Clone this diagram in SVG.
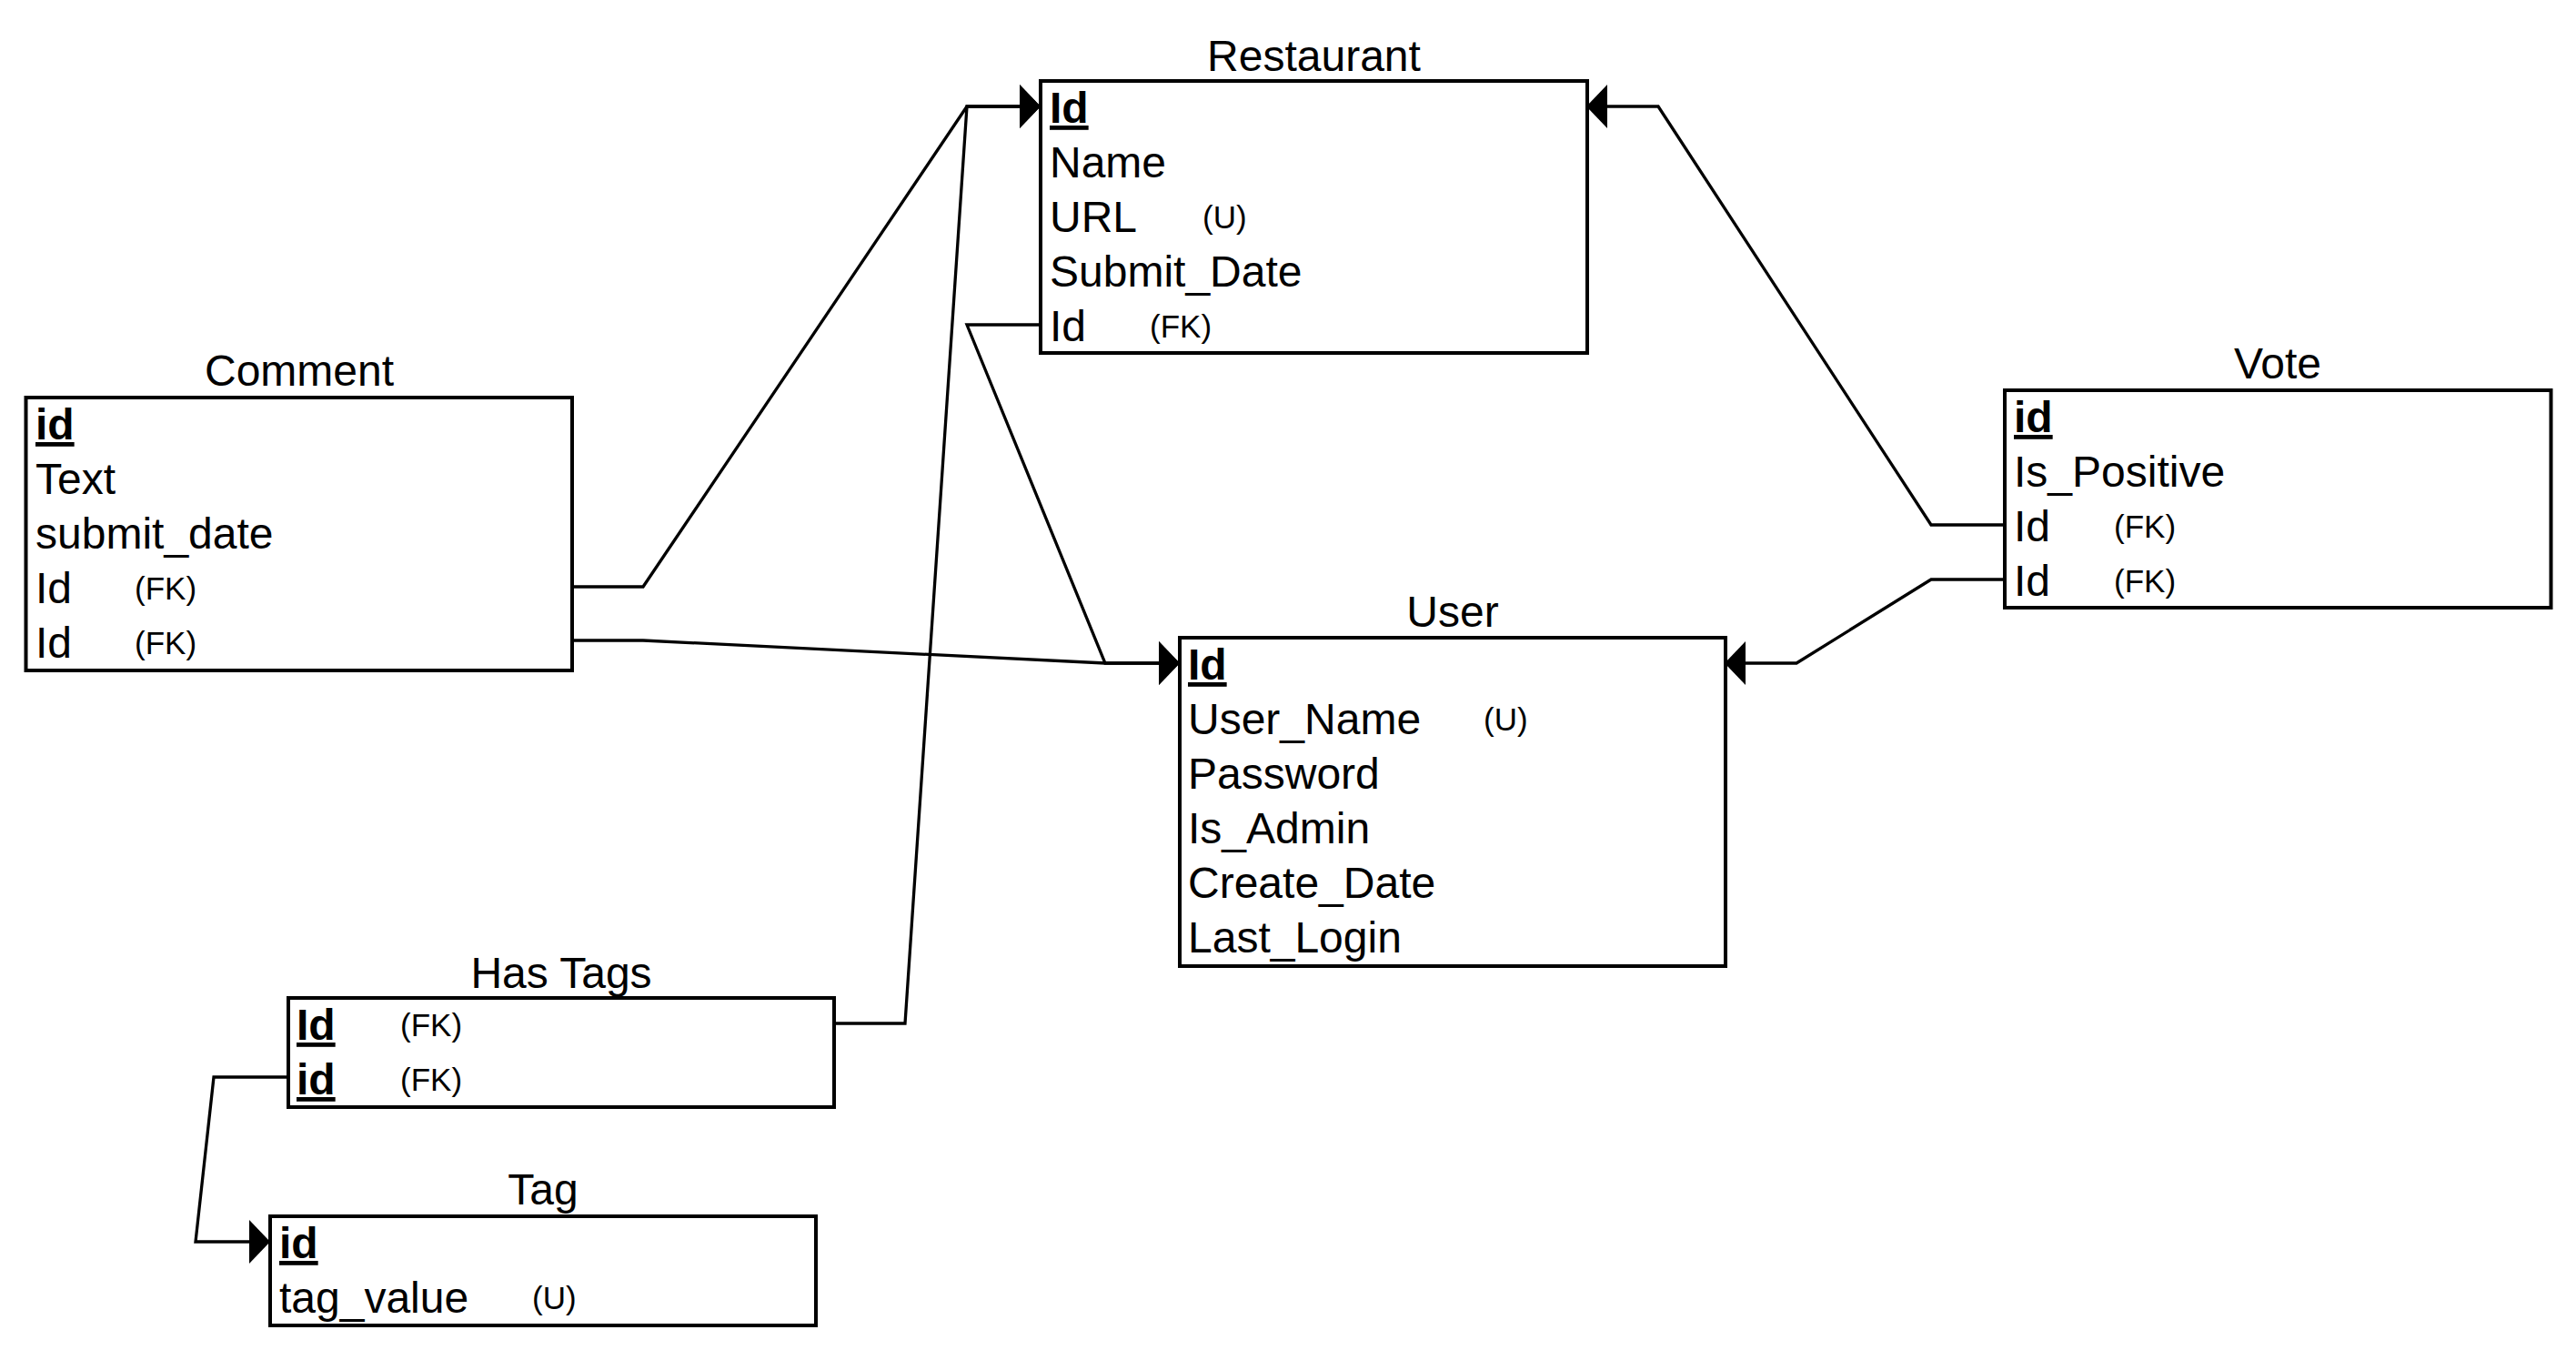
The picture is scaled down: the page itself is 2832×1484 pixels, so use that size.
<svg xmlns="http://www.w3.org/2000/svg" width="2832" height="1484" viewBox="0 0 2832 1484">
<style>
.box{fill:#fff;stroke:#000;stroke-width:4}
.t{font-family:"Liberation Sans",Arial,sans-serif;font-size:48px;fill:#000}
.title{text-anchor:middle}
.pk{font-weight:bold;text-decoration:underline}
.s{font-family:"Liberation Sans",Arial,sans-serif;font-size:35px;fill:#000}
.c{fill:none;stroke:#000;stroke-width:3.3;stroke-linejoin:miter}
</style>
<defs>
<marker id="arr" markerUnits="userSpaceOnUse" markerWidth="26" markerHeight="50" refX="23" refY="24" orient="auto" viewBox="0 0 26 50">
<path d="M0,0 L23,24 L0,48 Z" fill="#000"/>
</marker>
</defs>
<rect width="2832" height="1484" fill="#fff"/>

<g id="connectors">
<path class="c" d="M629,645 H707 L1063,117 H1144" marker-end="url(#arr)"/>
<path class="c" d="M917,1125 H995 L1063,117 H1144" marker-end="url(#arr)"/>
<path class="c" d="M1144,357 H1063 L1215,729 H1297" marker-end="url(#arr)"/>
<path class="c" d="M629,704 H707 L1215,729 H1297" marker-end="url(#arr)"/>
<path class="c" d="M2204,577 H2123 L1823,117 H1744" marker-end="url(#arr)"/>
<path class="c" d="M2204,637 H2123 L1975,729 H1896" marker-end="url(#arr)"/>
<path class="c" d="M317,1184 H235 L215,1365 H297" marker-end="url(#arr)"/>
</g>

<g id="restaurant">
<text class="t title" x="1444.5" y="78">Restaurant</text>
<rect class="box" x="1144" y="89" width="601" height="299"/>
<text class="t pk" x="1154" y="135">Id</text>
<text class="t" x="1154" y="195">Name</text>
<text class="t" x="1154" y="255">URL</text>
<text class="s" x="1322" y="251">(U)</text>
<text class="t" x="1154" y="315">Submit_Date</text>
<text class="t" x="1154" y="375">Id</text>
<text class="s" x="1264" y="371">(FK)</text>
</g>

<g id="comment">
<text class="t title" x="329" y="424">Comment</text>
<rect class="box" x="28.5" y="437" width="600.5" height="300"/>
<text class="t pk" x="39" y="483">id</text>
<text class="t" x="39" y="543">Text</text>
<text class="t" x="39" y="603">submit_date</text>
<text class="t" x="39" y="663">Id</text>
<text class="s" x="148" y="659">(FK)</text>
<text class="t" x="39" y="723">Id</text>
<text class="s" x="148" y="719">(FK)</text>
</g>

<g id="user">
<text class="t title" x="1597" y="689">User</text>
<rect class="box" x="1297" y="701" width="600" height="361"/>
<text class="t pk" x="1306" y="747">Id</text>
<text class="t" x="1306" y="807">User_Name</text>
<text class="s" x="1631" y="803">(U)</text>
<text class="t" x="1306" y="867">Password</text>
<text class="t" x="1306" y="927">Is_Admin</text>
<text class="t" x="1306" y="987">Create_Date</text>
<text class="t" x="1306" y="1047">Last_Login</text>
</g>

<g id="vote">
<text class="t title" x="2504" y="416">Vote</text>
<rect class="box" x="2204" y="429" width="600.5" height="239"/>
<text class="t pk" x="2214" y="475">id</text>
<text class="t" x="2214" y="535">Is_Positive</text>
<text class="t" x="2214" y="595">Id</text>
<text class="s" x="2324" y="591">(FK)</text>
<text class="t" x="2214" y="655">Id</text>
<text class="s" x="2324" y="651">(FK)</text>
</g>

<g id="has-tags">
<text class="t title" x="617" y="1086">Has Tags</text>
<rect class="box" x="317" y="1097" width="600" height="120"/>
<text class="t pk" x="326" y="1143">Id</text>
<text class="s" x="440" y="1139">(FK)</text>
<text class="t pk" x="326" y="1203">id</text>
<text class="s" x="440" y="1199">(FK)</text>
</g>

<g id="tag">
<text class="t title" x="597" y="1324">Tag</text>
<rect class="box" x="297" y="1337" width="600" height="120"/>
<text class="t pk" x="307" y="1383">id</text>
<text class="t" x="307" y="1443">tag_value</text>
<text class="s" x="585" y="1439">(U)</text>
</g>
</svg>
